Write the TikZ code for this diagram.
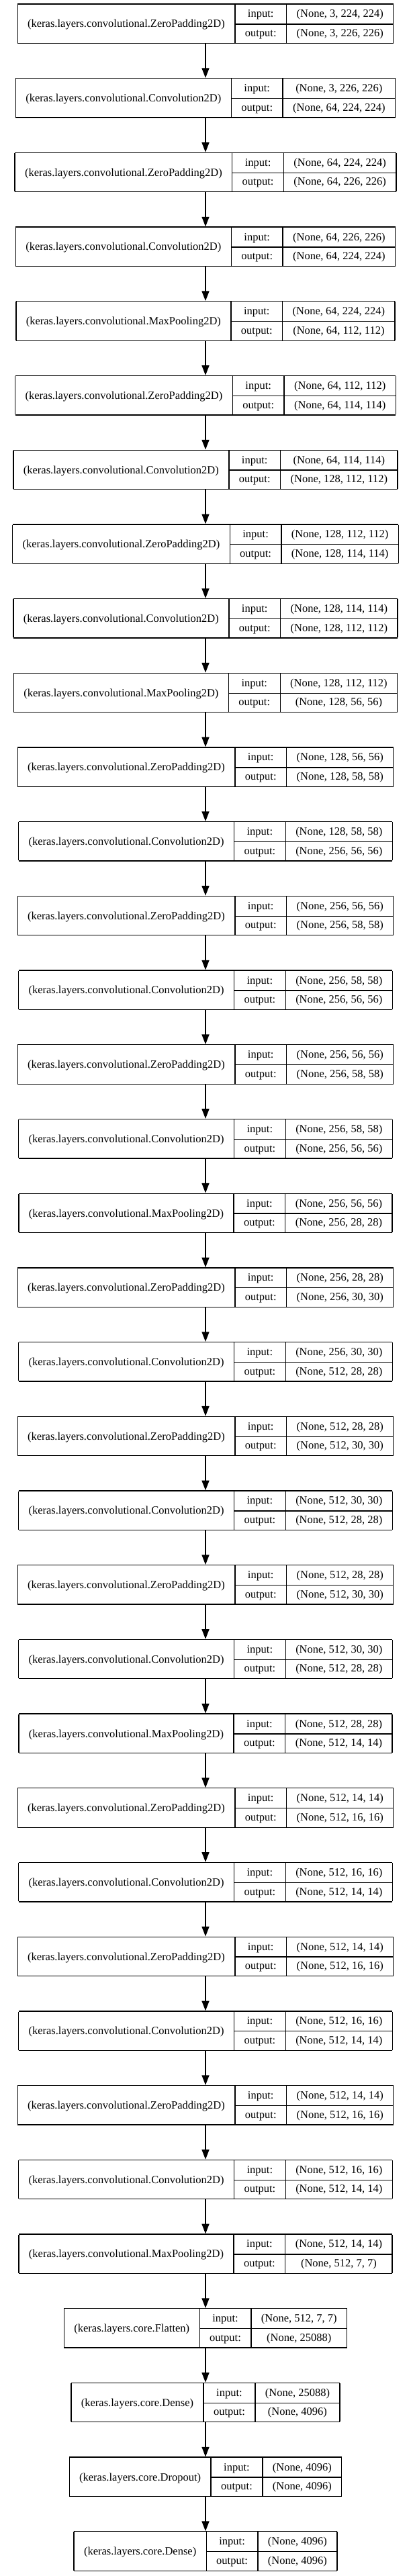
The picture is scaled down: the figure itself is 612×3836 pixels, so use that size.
\documentclass[tikz,border=0pt]{standalone}
\usepackage{fontspec}
\setmainfont{Liberation Serif}
\usetikzlibrary{arrows.meta}

\newcommand{\lfont}{\fontsize{16.5pt}{19pt}\selectfont}
\setlength{\arrayrulewidth}{1.3pt}
\setlength{\tabcolsep}{15pt}
\newcommand{\rowstrut}{\rule[-9.25pt]{0pt}{28.55pt}}
% record: class | input:/output: | shapes
\newcommand{\kerasrec}[3]{%
  \begin{tabular}{|c|c|c|}\hline
    \raisebox{-14.93pt}[0pt][0pt]{#1} & input:\rowstrut & #2\\\cline{2-3}
    & output:\rowstrut & #3\\\hline
  \end{tabular}}
\tikzstyle{lS}=[inner sep=0pt,outer sep=0pt,font=\lfont]
\tikzstyle{aS}=[draw=black,line width=1.5pt,-{Triangle[length=14.7pt,width=11pt]}]

\begin{document}
\begin{tikzpicture}[x=1pt,y=1pt]
                \useasboundingbox (0,0) rectangle (612,-3836);
                \draw (306,-35.2) node[lS] (l1) {\kerasrec{(keras.layers.convolutional.ZeroPadding2D)}{(None, 3, 224, 224)}{(None, 3, 226, 226)}};
                \draw (306,-145.9) node[lS] (l2) {\kerasrec{(keras.layers.convolutional.Convolution2D)}{(None, 3, 226, 226)}{(None, 64, 224, 224)}};
                \draw (306,-256.6) node[lS] (l3) {\kerasrec{(keras.layers.convolutional.ZeroPadding2D)}{(None, 64, 224, 224)}{(None, 64, 226, 226)}};
                \draw (306,-367.3) node[lS] (l4) {\kerasrec{(keras.layers.convolutional.Convolution2D)}{(None, 64, 226, 226)}{(None, 64, 224, 224)}};
                \draw (306,-478.0) node[lS] (l5) {\kerasrec{(keras.layers.convolutional.MaxPooling2D)}{(None, 64, 224, 224)}{(None, 64, 112, 112)}};
                \draw (306,-588.7) node[lS] (l6) {\kerasrec{(keras.layers.convolutional.ZeroPadding2D)}{(None, 64, 112, 112)}{(None, 64, 114, 114)}};
                \draw (306,-699.4) node[lS] (l7) {\kerasrec{(keras.layers.convolutional.Convolution2D)}{(None, 64, 114, 114)}{(None, 128, 112, 112)}};
                \draw (306,-810.1) node[lS] (l8) {\kerasrec{(keras.layers.convolutional.ZeroPadding2D)}{(None, 128, 112, 112)}{(None, 128, 114, 114)}};
                \draw (306,-920.8) node[lS] (l9) {\kerasrec{(keras.layers.convolutional.Convolution2D)}{(None, 128, 114, 114)}{(None, 128, 112, 112)}};
                \draw (306,-1031.5) node[lS] (l10) {\kerasrec{(keras.layers.convolutional.MaxPooling2D)}{(None, 128, 112, 112)}{(None, 128, 56, 56)}};
                \draw (306,-1142.2) node[lS] (l11) {\kerasrec{(keras.layers.convolutional.ZeroPadding2D)}{(None, 128, 56, 56)}{(None, 128, 58, 58)}};
                \draw (306,-1252.9) node[lS] (l12) {\kerasrec{(keras.layers.convolutional.Convolution2D)}{(None, 128, 58, 58)}{(None, 256, 56, 56)}};
                \draw (306,-1363.6) node[lS] (l13) {\kerasrec{(keras.layers.convolutional.ZeroPadding2D)}{(None, 256, 56, 56)}{(None, 256, 58, 58)}};
                \draw (306,-1474.3) node[lS] (l14) {\kerasrec{(keras.layers.convolutional.Convolution2D)}{(None, 256, 58, 58)}{(None, 256, 56, 56)}};
                \draw (306,-1585.0) node[lS] (l15) {\kerasrec{(keras.layers.convolutional.ZeroPadding2D)}{(None, 256, 56, 56)}{(None, 256, 58, 58)}};
                \draw (306,-1695.7) node[lS] (l16) {\kerasrec{(keras.layers.convolutional.Convolution2D)}{(None, 256, 58, 58)}{(None, 256, 56, 56)}};
                \draw (306,-1806.4) node[lS] (l17) {\kerasrec{(keras.layers.convolutional.MaxPooling2D)}{(None, 256, 56, 56)}{(None, 256, 28, 28)}};
                \draw (306,-1917.1) node[lS] (l18) {\kerasrec{(keras.layers.convolutional.ZeroPadding2D)}{(None, 256, 28, 28)}{(None, 256, 30, 30)}};
                \draw (306,-2027.8) node[lS] (l19) {\kerasrec{(keras.layers.convolutional.Convolution2D)}{(None, 256, 30, 30)}{(None, 512, 28, 28)}};
                \draw (306,-2138.5) node[lS] (l20) {\kerasrec{(keras.layers.convolutional.ZeroPadding2D)}{(None, 512, 28, 28)}{(None, 512, 30, 30)}};
                \draw (306,-2249.2) node[lS] (l21) {\kerasrec{(keras.layers.convolutional.Convolution2D)}{(None, 512, 30, 30)}{(None, 512, 28, 28)}};
                \draw (306,-2359.9) node[lS] (l22) {\kerasrec{(keras.layers.convolutional.ZeroPadding2D)}{(None, 512, 28, 28)}{(None, 512, 30, 30)}};
                \draw (306,-2470.6) node[lS] (l23) {\kerasrec{(keras.layers.convolutional.Convolution2D)}{(None, 512, 30, 30)}{(None, 512, 28, 28)}};
                \draw (306,-2581.3) node[lS] (l24) {\kerasrec{(keras.layers.convolutional.MaxPooling2D)}{(None, 512, 28, 28)}{(None, 512, 14, 14)}};
                \draw (306,-2692.0) node[lS] (l25) {\kerasrec{(keras.layers.convolutional.ZeroPadding2D)}{(None, 512, 14, 14)}{(None, 512, 16, 16)}};
                \draw (306,-2802.7) node[lS] (l26) {\kerasrec{(keras.layers.convolutional.Convolution2D)}{(None, 512, 16, 16)}{(None, 512, 14, 14)}};
                \draw (306,-2913.4) node[lS] (l27) {\kerasrec{(keras.layers.convolutional.ZeroPadding2D)}{(None, 512, 14, 14)}{(None, 512, 16, 16)}};
                \draw (306,-3024.1) node[lS] (l28) {\kerasrec{(keras.layers.convolutional.Convolution2D)}{(None, 512, 16, 16)}{(None, 512, 14, 14)}};
                \draw (306,-3134.8) node[lS] (l29) {\kerasrec{(keras.layers.convolutional.ZeroPadding2D)}{(None, 512, 14, 14)}{(None, 512, 16, 16)}};
                \draw (306,-3245.5) node[lS] (l30) {\kerasrec{(keras.layers.convolutional.Convolution2D)}{(None, 512, 16, 16)}{(None, 512, 14, 14)}};
                \draw (306,-3356.2) node[lS] (l31) {\kerasrec{(keras.layers.convolutional.MaxPooling2D)}{(None, 512, 14, 14)}{(None, 512, 7, 7)}};
                \draw (306,-3466.9) node[lS] (l32) {\kerasrec{(keras.layers.core.Flatten)}{(None, 512, 7, 7)}{(None, 25088)}};
                \draw (306,-3577.6) node[lS] (l33) {\kerasrec{(keras.layers.core.Dense)}{(None, 25088)}{(None, 4096)}};
                \draw (306,-3688.3) node[lS] (l34) {\kerasrec{(keras.layers.core.Dropout)}{(None, 4096)}{(None, 4096)}};
                \draw (306,-3799.0) node[lS] (l35) {\kerasrec{(keras.layers.core.Dense)}{(None, 4096)}{(None, 4096)}};
                \path
                    (l1) edge[aS] (l2)   (l2) edge[aS] (l3)   (l3) edge[aS] (l4)   (l4) edge[aS] (l5)
                    (l5) edge[aS] (l6)   (l6) edge[aS] (l7)   (l7) edge[aS] (l8)   (l8) edge[aS] (l9)
                    (l9) edge[aS] (l10)  (l10) edge[aS] (l11) (l11) edge[aS] (l12) (l12) edge[aS] (l13)
                    (l13) edge[aS] (l14) (l14) edge[aS] (l15) (l15) edge[aS] (l16) (l16) edge[aS] (l17)
                    (l17) edge[aS] (l18) (l18) edge[aS] (l19) (l19) edge[aS] (l20) (l20) edge[aS] (l21)
                    (l21) edge[aS] (l22) (l22) edge[aS] (l23) (l23) edge[aS] (l24) (l24) edge[aS] (l25)
                    (l25) edge[aS] (l26) (l26) edge[aS] (l27) (l27) edge[aS] (l28) (l28) edge[aS] (l29)
                    (l29) edge[aS] (l30) (l30) edge[aS] (l31) (l31) edge[aS] (l32) (l32) edge[aS] (l33)
                    (l33) edge[aS] (l34) (l34) edge[aS] (l35)
                ;
\end{tikzpicture}
\end{document}
